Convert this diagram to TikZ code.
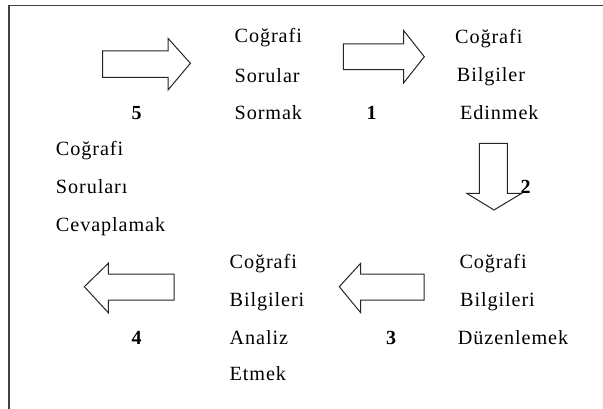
\documentclass[tikz,border=0pt]{standalone}
\usepackage{fontspec}
\setmainfont{Liberation Serif}[LetterSpace=4.5]
\begin{document}
\begin{tikzpicture}[x=1pt,y=-1pt,
  lbl/.style={anchor=base west,inner sep=0pt,font=\fontsize{20.2}{23}\selectfont},
  num/.style={anchor=base,inner sep=0pt,font=\fontsize{20}{23}\selectfont\bfseries},
  blockarrow/.style={draw=black!85,line width=1pt,fill=white,line join=miter}]
\useasboundingbox (0,0) rectangle (603,409);
\fill[white] (0,0) rectangle (603,409);
\draw[black!75,line width=1.6pt] (8.7,420) -- (8.7,5.7) -- (620,5.7);
% arrow 5 (right)
\draw[blockarrow] (102.7,51) -- (168,51) -- (168,38.3) -- (190.4,63.3) -- (168,90) -- (168,77.3) -- (102.7,77.3) -- cycle;
% arrow 1 (right)
\draw[blockarrow] (343.4,43.8) -- (403.6,43.8) -- (403.6,30.5) -- (424.3,56.7) -- (403.6,83) -- (403.6,69.6) -- (343.4,69.6) -- cycle;
% arrow 2 (down)
\draw[blockarrow] (479.3,143.5) -- (507.3,143.5) -- (507.3,193.3) -- (521.7,193.3) -- (494,210) -- (466.7,193.3) -- (479.3,193.3) -- cycle;
% arrow 3 (left)
\draw[blockarrow] (424,274) -- (360.7,274) -- (360.7,263.3) -- (339.3,286.7) -- (360.7,312.7) -- (360.7,300) -- (424,300) -- cycle;
% arrow 4 (left)
\draw[blockarrow] (174,274) -- (108.3,274) -- (108.3,263.3) -- (84.3,286.7) -- (108.3,312.7) -- (108.3,300) -- (174,300) -- cycle;
% texts top middle
\node[lbl] (a1) at (234.5,42.7) {Coğrafi};
\node[lbl] (a2) at (234.5,82.7) {Sorular};
\node[lbl] (a3) at (234.5,119.3) {Sormak};
% top right
\node[lbl] (b1) at (455,43.3) {Coğrafi};
\node[lbl] (b2) at (456.7,81.7) {Bilgiler};
\node[lbl] (b3) at (460,119.3) {Edinmek};
% left
\node[lbl] (c1) at (55.8,155.7) {Coğrafi};
\node[lbl] (c2) at (55.8,194) {Soruları};
\node[lbl] (c3) at (55.8,231.7) {Cevaplamak};
% bottom middle
\node[lbl] (d1) at (229.5,268.3) {Coğrafi};
\node[lbl] (d2) at (229.5,306) {Bilgileri};
\node[lbl] (d3) at (229.5,344) {Analiz};
\node[lbl] (d4) at (229.5,380) {Etmek};
% bottom right
\node[lbl] (e1) at (459.3,268.3) {Coğrafi};
\node[lbl] (e2) at (460,306) {Bilgileri};
\node[lbl] (e3) at (457.7,344) {Düzenlemek};
% numbers
\node[num] (n5) at (136.7,119.3) {5};
\node[num] (n1) at (371.7,119.3) {1};
\node[num] (n2) at (525.5,193.3) {2};
\node[num] (n3) at (391,344) {3};
\node[num] (n4) at (136.7,344) {4};
\end{tikzpicture}
\end{document}
